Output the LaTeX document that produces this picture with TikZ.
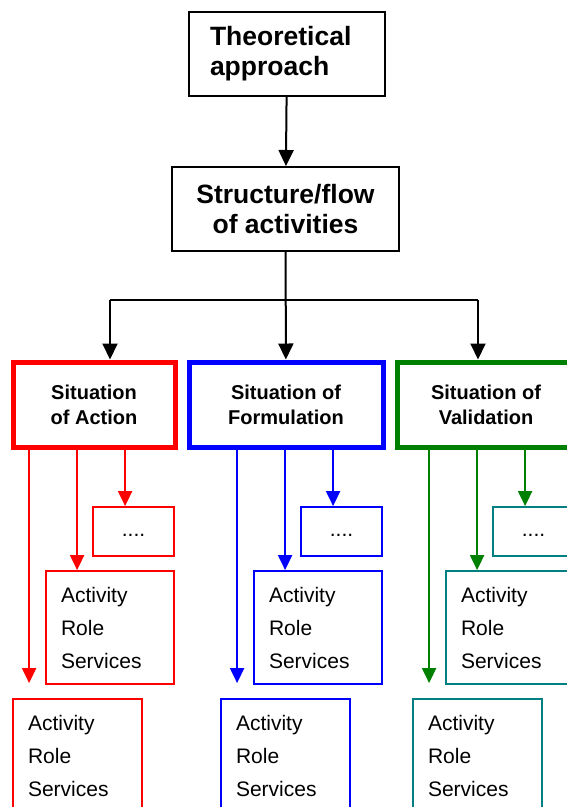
\documentclass[tikz,border=0pt]{standalone}
\usepackage{fontspec}
\setmainfont{Liberation Sans}
\usetikzlibrary{arrows.meta}

\definecolor{sitgreen}{RGB}{0,128,0}
\definecolor{boxteal}{RGB}{0,128,128}

\tikzset{
  headbox/.style={draw,line width=2pt,inner sep=0pt,font=\fontsize{26.5}{30}\selectfont\bfseries},
  sitbox/.style={draw,line width=5pt,inner sep=0pt,align=center,font=\fontsize{20}{25}\selectfont\bfseries},
  itembox/.style={draw,line width=1.8pt,inner xsep=15pt,inner ysep=0pt,text width=#1,align=left,font=\fontsize{21}{33}\selectfont},
  dotbox/.style={draw,line width=1.8pt,inner sep=0pt,text height=15pt,text depth=5pt,font=\fontsize{21}{25}\selectfont},
  conn/.style={line width=2pt,-{Triangle[length=16pt,width=15pt]}},
  subconn/.style={line width=2pt,-{Triangle[length=15pt,width=14pt]}}
}

\begin{document}
\begin{tikzpicture}[x=1pt,y=-1pt]
    \useasboundingbox (0,0) rectangle (567,807);
    \clip (0,0) rectangle (567,807);
    % Top
    \node[headbox,minimum width=196pt,minimum height=84pt,text width=154pt,align=left] (theory) at (287,54) {Theoretical\\approach};
    \node[headbox,minimum width=227pt,minimum height=84pt,align=center] (struct) at (285.5,209) {Structure/flow\\of activities};
    \draw[conn] (theory) -- (struct);
    % Situations
    \node[sitbox,draw=red,minimum width=162pt,minimum height=85pt] (sitA) at (94,404.5) {Situation\\of Action};
    \node[sitbox,draw=blue,minimum width=194pt,minimum height=85pt] (sitF) at (286,404.5) {Situation of\\Formulation};
    \node[sitbox,draw=sitgreen,minimum width=178pt,minimum height=85pt] (sitV) at (486,404.5) {Situation of\\Validation};
    \coordinate (splitL) at (110,300);
    \coordinate (splitR) at (478,300);
    \draw[line width=2pt] (splitL) -- (splitR);
    \draw[conn] (struct) -- (sitF);
    \draw[conn] (splitL) -- (splitL |- sitA.north);
    \draw[conn] (splitR) -- (splitR |- sitV.north);
    % Action
    \node[dotbox,draw=red,minimum width=81pt,minimum height=49pt] (dotsA) at (133.5,531.5) {....};
    \node[itembox=98pt,draw=red,minimum height=113pt] (actA) at (110,627.5) {Activity\\Role\\Services};
    \node[itembox=99pt,draw=red,minimum height=113pt] (lowA) at (77.5,755.5) {Activity\\Role\\Services};
    \coordinate (a3) at ([xshift=33pt]dotsA.north west);
    \coordinate (a2) at ([xshift=32pt]actA.north west);
    \coordinate (a1) at ([xshift=17pt,yshift=15pt]lowA.north west);
    \draw[subconn,draw=red,fill=red] (a3 |- sitA.south) -- (a3);
    \draw[subconn,draw=red,fill=red] (a2 |- sitA.south) -- (a2);
    \draw[subconn,draw=red,fill=red] (a1 |- sitA.south) -- (a1);
    % Formulation
    \node[dotbox,draw=blue,minimum width=81pt,minimum height=49pt] (dotsF) at (341.5,531.5) {....};
    \node[itembox=98pt,draw=blue,minimum height=113pt] (actF) at (318,627.5) {Activity\\Role\\Services};
    \node[itembox=99pt,draw=blue,minimum height=113pt] (lowF) at (285.5,755.5) {Activity\\Role\\Services};
    \coordinate (f3) at ([xshift=33pt]dotsF.north west);
    \coordinate (f2) at ([xshift=32pt]actF.north west);
    \coordinate (f1) at ([xshift=17pt,yshift=15pt]lowF.north west);
    \draw[subconn,draw=blue,fill=blue] (f3 |- sitF.south) -- (f3);
    \draw[subconn,draw=blue,fill=blue] (f2 |- sitF.south) -- (f2);
    \draw[subconn,draw=blue,fill=blue] (f1 |- sitF.south) -- (f1);
    % Validation
    \node[dotbox,draw=boxteal,minimum width=81pt,minimum height=49pt] (dotsV) at (533.5,531.5) {....};
    \node[itembox=98pt,draw=boxteal,minimum height=113pt] (actV) at (510,627.5) {Activity\\Role\\Services};
    \node[itembox=99pt,draw=boxteal,minimum height=113pt] (lowV) at (477.5,755.5) {Activity\\Role\\Services};
    \coordinate (v3) at ([xshift=33pt]dotsV.north west);
    \coordinate (v2) at ([xshift=32pt]actV.north west);
    \coordinate (v1) at ([xshift=17pt,yshift=15pt]lowV.north west);
    \draw[subconn,draw=sitgreen,fill=sitgreen] (v3 |- sitV.south) -- (v3);
    \draw[subconn,draw=sitgreen,fill=sitgreen] (v2 |- sitV.south) -- (v2);
    \draw[subconn,draw=sitgreen,fill=sitgreen] (v1 |- sitV.south) -- (v1);
\end{tikzpicture}
\end{document}
